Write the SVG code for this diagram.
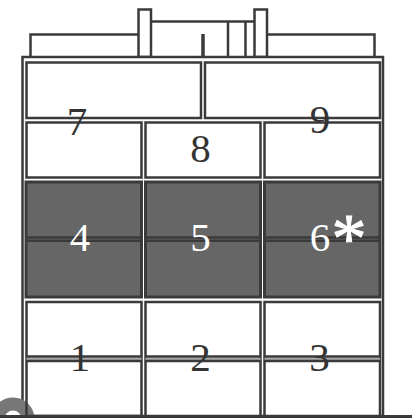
<svg xmlns="http://www.w3.org/2000/svg" width="416" height="418" viewBox="0 0 416 418">
<style>
.w{fill:#fff;stroke:#3a3a3a;stroke-width:2.5}
.n{fill:none;stroke:#3a3a3a;stroke-width:2.5}
.g{fill:#666;stroke:#3a3a3a;stroke-width:3}
.l{fill:none;stroke:#3a3a3a;stroke-width:2.5}
.b{fill:none;stroke:#aaa;stroke-width:2.5}
text{font-family:"Liberation Serif",serif;font-size:41px;text-anchor:middle}
.d{fill:#333}.t{fill:#fff}
</style>
<rect width="416" height="418" fill="#fff"/>
<g id="roof">
<path class="l" d="M30.500 57V34.500H138M151 21.500H255M267 34.500H374.500V57M228 21.500V57M245.500 21.500V57"/>
<rect class="w" x="138.500" y="9.500" width="12.500" height="47.500"/>
<rect class="w" x="254.500" y="9.500" width="12.500" height="47.500"/>
<path d="M203 34V57" stroke="#3a3a3a" stroke-width="3.500"/>
</g>
<g id="building"><rect class="w" x="22.500" y="57" width="360.500" height="359"/></g>
<circle cx="13" cy="419" r="15" fill="none" stroke="#777" stroke-width="13"/>
<g id="room-top-left"><rect class="w" x="26.500" y="62.500" width="174.500" height="55.500"/></g>
<g id="room-top-right"><rect class="w" x="205" y="62.500" width="175" height="55.500"/></g>
<g id="room-7-lower"><rect class="w" x="26.500" y="122.500" width="115" height="55"/></g>
<g id="room-8"><rect class="w" x="145.500" y="122.500" width="115" height="55"/></g>
<g id="room-9-lower"><rect class="w" x="264.500" y="122.500" width="115.500" height="55"/></g>
<g id="room-4"><rect class="g" x="26" y="182" width="115.500" height="115"/><path class="l" d="M26 237.500H141.500M26 240.800H141.500"/></g>
<g id="room-5"><rect class="g" x="145.500" y="182" width="115" height="115"/><path class="l" d="M145.500 237.500H260.500M145.500 240.800H260.500"/></g>
<g id="room-6"><rect class="g" x="264.500" y="182" width="115.500" height="115"/><path class="l" d="M264.500 237.500H380M264.500 240.800H380"/></g>
<g id="room-1"><rect class="n" x="26.500" y="302" width="115" height="114"/><path class="b" d="M26.500 358.800H141.500"/><path class="l" d="M26.500 356.500H141.500M26.500 361H141.500"/></g>
<g id="room-2"><rect class="w" x="145.500" y="302" width="115" height="114"/><path class="b" d="M145.500 358.800H260.500"/><path class="l" d="M145.500 356.500H260.500M145.500 361H260.500"/></g>
<g id="room-3"><rect class="w" x="264.500" y="302" width="115.500" height="114"/><path class="b" d="M264.500 358.800H380"/><path class="l" d="M264.500 356.500H380M264.500 361H380"/></g>
<g id="connectors"><path d="M0 416.500H412" stroke="#3a3a3a" stroke-width="3"/></g>
<g id="labels">
<text class="d" x="77" y="135">7</text>
<text class="d" x="200.500" y="162">8</text>
<text class="d" x="320" y="133">9</text>
<text class="t" x="80" y="251">4</text>
<text class="t" x="200.500" y="251">5</text>
<text class="t" x="320" y="251">6</text>
<text class="t" x="349" y="262" style="font-size:70px;stroke:#fff;stroke-width:1">*</text>
<text class="d" x="80" y="371">1</text>
<text class="d" x="200.500" y="371">2</text>
<text class="d" x="319.500" y="371">3</text>
</g>
</svg>
